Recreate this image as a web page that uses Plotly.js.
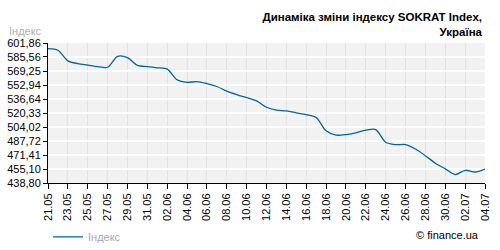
<!DOCTYPE html>
<html>
<head>
<meta charset="utf-8">
<script src="https://cdn.plot.ly/plotly-3.0.1.min.js"></script>
<style>html,body{margin:0;padding:0;background:#fff;}#chart{width:500px;height:250px;}</style>
</head>
<body>
<div id="chart"></div>
<script>
var dates = ["2008-05-21","2008-05-22","2008-05-23","2008-05-24","2008-05-25","2008-05-26","2008-05-27","2008-05-28","2008-05-29","2008-05-30",
  "2008-05-31","2008-06-01","2008-06-02","2008-06-03","2008-06-04","2008-06-05","2008-06-06","2008-06-07","2008-06-08","2008-06-09",
  "2008-06-10","2008-06-11","2008-06-12","2008-06-13","2008-06-14","2008-06-15","2008-06-16","2008-06-17","2008-06-18","2008-06-19",
  "2008-06-20","2008-06-21","2008-06-22","2008-06-23","2008-06-24","2008-06-25","2008-06-26","2008-06-27","2008-06-28","2008-06-29",
  "2008-06-30","2008-07-01","2008-07-02","2008-07-03","2008-07-04"];
var indexValues = [595.3,593.4,581.1,577.9,576.2,574.4,573.6,586.4,584.9,575.9,
  574.4,573.0,571.5,559.0,556.0,556.9,554.6,551.2,545.8,541.8,
  538.3,534.5,527.0,523.8,522.8,520.6,518.4,515.1,499.6,494.6,
  495.2,497.3,500.3,501.0,486.2,483.5,483.5,478.4,470.6,461.8,
  455.3,448.6,453.6,451.6,455.1];
var yTickVals = [601.86,585.56,569.25,552.94,536.64,520.33,504.02,487.72,471.41,455.10,438.80];
var yTickText = ["601,86","585,56","569,25","552,94","536,64","520,33","504,02","487,72","471,41","455,10","438,80"];
var seriesName = "Індекс";
var chartTitle = "Динаміка зміни індексу SOKRAT Index,<br>Україна";
var sourceText = "© finance.ua";

var trace = {
  x: dates, y: indexValues, type: "scatter", mode: "lines", name: seriesName,
  line: {color: "#00659e", width: 1.3, shape: "spline", smoothing: 0.8}
};
var layout = {
  width: 500, height: 250,
  margin: {l: 48, r: 15, t: 43, b: 67, pad: 0, autoexpand: false},
  paper_bgcolor: "#ffffff", plot_bgcolor: "#f2f2f2",
  font: {family: "Liberation Sans, Arial, sans-serif", size: 11, color: "#000"},
  title: {text: chartTitle, font: {family: "Liberation Sans, Arial, sans-serif", size: 11.5, color: "#000", weight: "bold"},
    xref: "container", yref: "container", x: 0.964, xanchor: "right", y: 0.915, yanchor: "top"},
  showlegend: true,
  legend: {orientation: "h", x: 0.0, xanchor: "left", y: -0.385, yanchor: "middle",
    font: {size: 11, color: "#a8a8a8"}, bgcolor: "rgba(0,0,0,0)", itemwidth: 30},
  xaxis: {type: "date", range: ["2008-05-21", "2008-07-04"], tick0: "2008-05-21", dtick: 172800000,
    tickformat: "%d.%m", tickangle: -90, ticks: "outside", ticklen: 5, tickcolor: "#000",
    showline: true, linecolor: "#000", linewidth: 1, showgrid: true, gridcolor: "#e2e2e2", gridwidth: 1,
    zeroline: false, tickfont: {size: 11, color: "#000"}, automargin: false},
  yaxis: {range: [438.80, 601.86], tickvals: yTickVals, ticktext: yTickText, ticks: "outside", ticklen: 4,
    tickcolor: "#000", showline: true, linecolor: "#000", linewidth: 1, showgrid: true, gridcolor: "#ffffff",
    gridwidth: 1.5, zeroline: false, tickfont: {size: 11, color: "#000"}, automargin: false},
  annotations: [
    {text: seriesName, xref: "paper", yref: "paper", x: -0.01, y: 1.0, xanchor: "right", yanchor: "bottom",
      yshift: 4, xshift: 0, showarrow: false, font: {size: 11, color: "#b0b0b0"}},
    {text: sourceText, xref: "paper", yref: "paper", x: 0.99, y: -0.37, xanchor: "right", yanchor: "middle",
      showarrow: false, font: {size: 11, color: "#000"}}
  ]
};
Plotly.newPlot("chart", [trace], layout, {staticPlot: true, displayModeBar: false});
</script>
</body>
</html>
